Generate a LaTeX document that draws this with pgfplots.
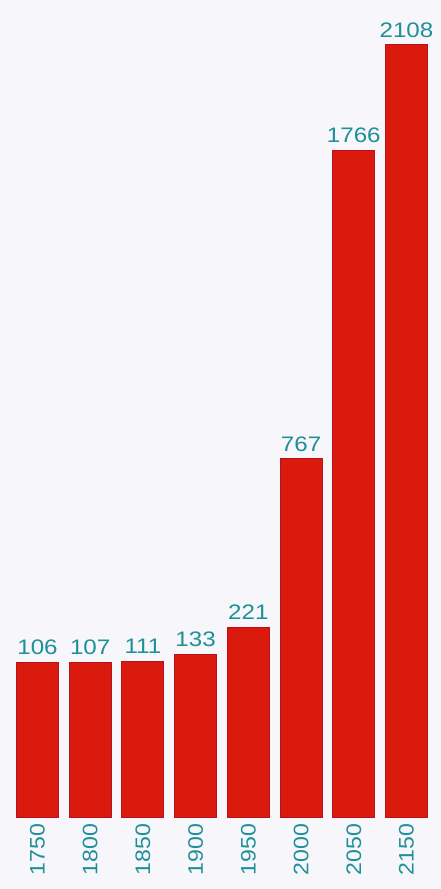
\documentclass[border=0pt]{standalone}
\usepackage{pgfplots}
\pgfplotsset{compat=1.18}
\usepackage{pgfplotstable}
\usepackage{fontspec}
\setmainfont{Liberation Sans}
\definecolor{barred}{HTML}{DA1A0C}
\definecolor{baredge}{HTML}{B8101C}
\definecolor{labteal}{HTML}{1E9098}
\definecolor{bg}{HTML}{F7F6FB}
\pgfplotstableread{
x v
0 106
1 107
2 111
3 133
4 221
5 767
6 1766
7 2108
}\datatable
\begin{document}
\begin{tikzpicture}[x=1pt,y=1pt]
\fill[bg] (0,0) rectangle (441,889);
\useasboundingbox (0,0) rectangle (441,889);
\begin{axis}[
  at={(11.15pt,72pt)}, anchor=south west,
  scale only axis, width=421.7pt, height=790pt,
  xmin=-0.5, xmax=7.5, ymin=0, ymax=2560,
  clip=false,
  /pgf/number format/assume math mode=true,
  /pgf/number format/1000 sep={},
  axis line style={draw=none},
  major tick length=0pt,
  ytick=\empty,
  xtick={0,...,7},
  xticklabels={1750,1800,1850,1900,1950,2000,2050,2150},
  xticklabel style={rotate=90, anchor=east, xscale=1.1, text=labteal,
    font=\fontsize{21}{21}\selectfont, inner sep=5pt, xshift=-1pt},
  ybar, bar width=42pt,
  point meta=explicit,
  nodes near coords={\pgfmathprintnumber[fixed,precision=0,1000 sep={}]{\pgfplotspointmeta}},
  every node near coord/.append style={text=labteal, xscale=1.15,
    font=\fontsize{21}{21}\selectfont, inner sep=7pt},
]
\addplot[fill=barred, draw=baredge, line width=1pt]
  table[x=x, y expr=\thisrow{v}+394, meta=v] {\datatable};
\end{axis}
\end{tikzpicture}
\end{document}
